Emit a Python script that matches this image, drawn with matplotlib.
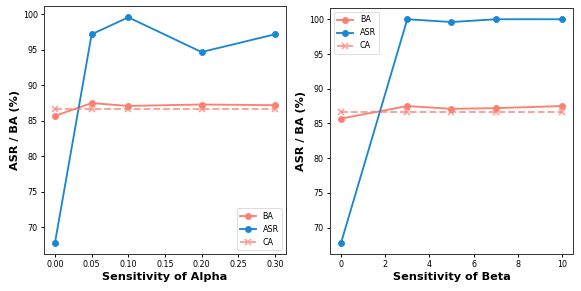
import matplotlib
matplotlib.use("Agg")
import matplotlib.pyplot as plt

alpha_x = [0.0, 0.05, 0.10, 0.20, 0.30]
alpha_ba = [85.7, 87.5, 87.1, 87.3, 87.2]
alpha_asr = [67.8, 97.2, 99.6, 94.7, 97.2]
alpha_ca = [86.7, 86.7, 86.7, 86.7, 86.7]

beta_x = [0, 3, 5, 7, 10]
beta_ba = [85.7, 87.5, 87.1, 87.2, 87.5]
beta_asr = [67.8, 100.0, 99.6, 100.0, 100.0]
beta_ca = [86.7, 86.7, 86.7, 86.7, 86.7]

BA_COLOR = "#FA8072"
ASR_COLOR = "#1A87D0"

fig = plt.figure(figsize=(10, 5.01), dpi=58.1)
ax1 = fig.add_axes([0.0757, 0.127, 0.4163, 0.852])
ax2 = fig.add_axes([0.568, 0.127, 0.418, 0.845])

def draw(ax, x, ba, asr, ca, xlabel, loc):
    ax.plot(x, ba, color=BA_COLOR, marker='o', linewidth=2.3, markersize=7.5, label='BA')
    ax.plot(x, asr, color=ASR_COLOR, marker='o', linewidth=2.3, markersize=7.5, label='ASR')
    ax.plot(x, ca, color=BA_COLOR, marker='x', linestyle='--', linewidth=2.3,
            markersize=7.5, markeredgewidth=2, alpha=0.75, label='CA')
    ax.set_xlabel(xlabel, fontsize=14, fontweight='bold')
    ax.set_ylabel('ASR / BA (%)', fontsize=14, fontweight='bold')
    ax.tick_params(labelsize=10, width=1.2, length=4)
    for s in ax.spines.values():
        s.set_linewidth(1.2)
        s.set_color('#333333')
    ax.legend(loc=loc, fontsize=10)

draw(ax1, alpha_x, alpha_ba, alpha_asr, alpha_ca, 'Sensitivity of Alpha', 'lower right')
ax1.set_xticks([0.0, 0.05, 0.10, 0.15, 0.20, 0.25, 0.30])
draw(ax2, beta_x, beta_ba, beta_asr, beta_ca, 'Sensitivity of Beta', 'upper left')

fig.savefig('out.png', dpi=58.1)
